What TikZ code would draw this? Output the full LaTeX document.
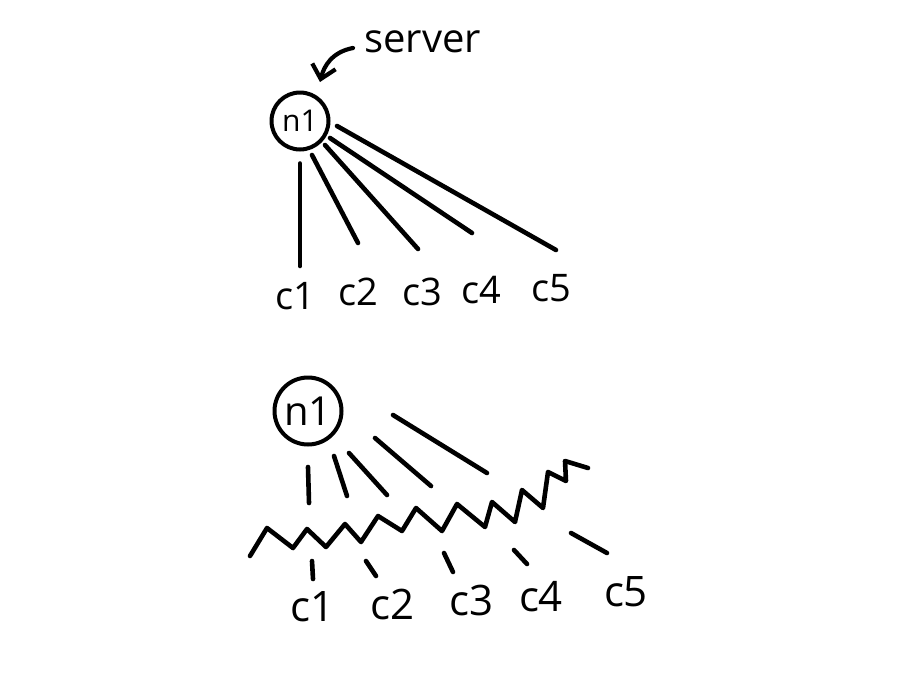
\documentclass[tikz,border=0pt]{standalone}
\usepackage{fontspec}
\setmainfont{Open Sans}
\usepackage{tikz}
\usetikzlibrary{arrows.meta, positioning}

\begin{document}
\begin{tikzpicture}[
    x=1pt, y=-1pt,
    hub/.style={circle, draw, line width=4pt, inner sep=0pt, align=center},
    lbl/.style={inner sep=0pt, font=\fontsize{38}{40}\selectfont},
    link/.style={line width=4.6pt, line cap=round, line join=round},
    arr/.style={-{Straight Barb[length=13pt, width=24pt, line width=4.2pt]}, line width=4.2pt, line cap=round}
]
\useasboundingbox (0,0) rectangle (900,675);

% Top: plain server
\node[hub, minimum width=56pt, minimum height=57pt, font=\fontsize{30}{32}\selectfont] (n1) at (300,121) {n1};
\node[inner sep=0pt, font=\fontsize{40}{42}\selectfont, anchor=base west] (server) at (364,52) {server};
\draw[arr] (353,48) .. controls (332,52) and (324,66) .. (320,82);

\node[lbl] (c1) at (295,296) {c1};
\node[lbl] (c2) at (358,292) {c2};
\node[lbl] (c3) at (422,292) {c3};
\node[lbl] (c4) at (481,290) {c4};
\node[lbl] (c5) at (551,288) {c5};

\coordinate (t1) at (300,266);
\coordinate (t2) at (358,243);
\coordinate (t3) at (418,249);
\coordinate (t4) at (472,233);
\coordinate (t5) at (556,250);

\draw[link, shorten <=12pt] (n1) -- (t1);
\draw[link] (312,155) -- (t2);
\draw[link] (325,145) -- (t3);
\draw[link] (330,138) -- (t4);
\draw[link] (337,126) -- (t5);

% Bottom: behind the zigzag
\node[hub, minimum width=67pt, minimum height=63pt, font=\fontsize{40}{42}\selectfont] (n2) at (308,411) {n1};

\node[lbl, font=\fontsize{42}{44}\selectfont] (d1) at (313,607) {c1};
\node[lbl, font=\fontsize{42}{44}\selectfont] (d2) at (393,604) {c2};
\node[lbl, font=\fontsize{42}{44}\selectfont] (d3) at (472,600) {c3};
\node[lbl, font=\fontsize{42}{44}\selectfont] (d4) at (541,597) {c4};
\node[lbl, font=\fontsize{42}{44}\selectfont] (d5) at (626,592) {c5};

% upper pieces
\draw[link] (308,467) -- (309,503);
\draw[link] (334,456) -- (347,496);
\draw[link] (349,453) -- (387,495);
\draw[link] (375,438) -- (431,486);
\draw[link] (393,415) -- (487,473);

% the wall
\draw[link] (250,556) -- (267,528) -- (293,548) -- (307,529) -- (326,547)
    -- (345,524) -- (361,542) -- (378,516) -- (402,531) -- (416,508)
    -- (442,531) -- (457,504) -- (485,527) -- (492,502) -- (515,522)
    -- (522,490) -- (543,508) -- (548,472) -- (566,481) -- (565,461) -- (588,468);

% lower pieces
\draw[link] (312,561) -- (313,579);
\draw[link] (366,561) -- (376,576);
\draw[link] (444,553) -- (453,572);
\draw[link] (514,550) -- (527,564);
\draw[link] (571,533) -- (607,553);

\end{tikzpicture}
\end{document}
